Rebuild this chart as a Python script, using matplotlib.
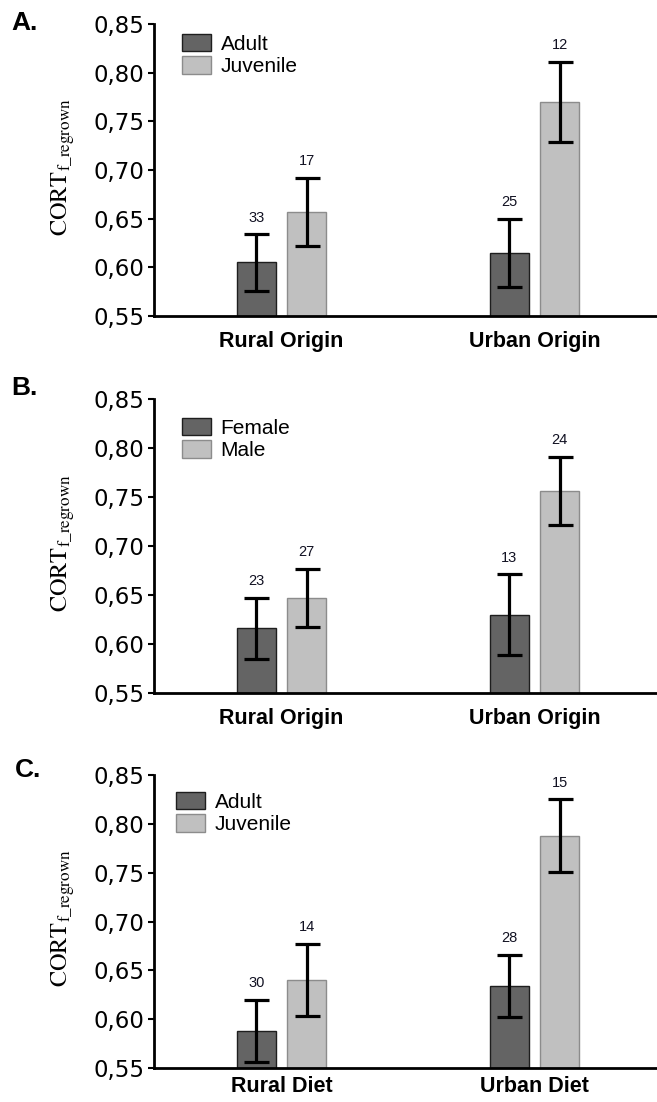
import matplotlib
matplotlib.use("Agg")
import matplotlib.pyplot as plt
import numpy as np

# panel A: origin x age
a_groups = ["Rural Origin", "Urban Origin"]
a_series = ["Adult", "Juvenile"]
a_means = [[0.605, 0.615], [0.657, 0.770]]
a_errs = [[0.029, 0.035], [0.035, 0.041]]
a_counts = [[33, 25], [17, 12]]

# panel B: origin x sex
b_groups = ["Rural Origin", "Urban Origin"]
b_series = ["Female", "Male"]
b_means = [[0.616, 0.630], [0.647, 0.756]]
b_errs = [[0.031, 0.041], [0.030, 0.035]]
b_counts = [[23, 13], [27, 24]]

# panel C: diet x age
c_groups = ["Rural Diet", "Urban Diet"]
c_series = ["Adult", "Juvenile"]
c_means = [[0.588, 0.634], [0.640, 0.788]]
c_errs = [[0.032, 0.032], [0.037, 0.037]]
c_counts = [[30, 28], [14, 15]]

yticks = [0.55, 0.60, 0.65, 0.70, 0.75, 0.80, 0.85]

face = ["#646464", "#c0c0c0"]
edge = ["#1e1e1e", "#8c8c8c"]

plt.rcParams["font.family"] = ["Liberation Sans", "DejaVu Sans"]
plt.rcParams["mathtext.fontset"] = "stix"

fig = plt.figure(figsize=(6.57, 11.02), dpi=100)
fig.patch.set_facecolor("white")

W, H = 657.0, 1102.0
panels = [
    ("A.", a_groups, a_series, a_means, a_errs, a_counts, 24, 316, 182, 34, 11, 30, 11),
    ("B.", b_groups, b_series, b_means, b_errs, b_counts, 399, 693, 182, 418, 11, 395, 11),
    ("C.", c_groups, c_series, c_means, c_errs, c_counts, 775, 1068, 176, 792, 15, 777, 6),
]

for (tag, groups, series, means, errs, counts,
     top, bot, leg_x, leg_y, tag_x, tag_y, xpad) in panels:
    ax = fig.add_axes([154 / W, (H - bot) / H, (W - 154) / W, (bot - top) / H])
    x = np.arange(len(groups))
    width = 0.154
    offs = [-0.1, 0.1]
    handles = []
    for i, name in enumerate(series):
        b = ax.bar(x + offs[i], means[i], width, bottom=0, color=face[i],
                   edgecolor=edge[i], linewidth=1.0, label=name, zorder=2)
        handles.append(b)
        ax.errorbar(x + offs[i], means[i], yerr=errs[i], fmt="none",
                    ecolor="black", elinewidth=2.3, capsize=9, capthick=2.3,
                    zorder=3)
        for xi, m, e, n in zip(x + offs[i], means[i], errs[i], counts[i]):
            ax.annotate(str(n), (xi, m + e), xytext=(0, 7),
                        textcoords="offset points", ha="center", va="bottom",
                        fontsize=10.5, color="#111122")

    ax.set_ylim(0.55, 0.85)
    ax.set_xlim(-0.504, 1.484)
    ax.set_yticks(yticks)
    ax.set_yticklabels([("%.2f" % t).replace(".", ",") for t in yticks],
                       family="DejaVu Sans", fontsize=16.5)
    ax.set_xticks(x)
    ax.set_xticklabels(groups, fontsize=15.5, fontweight="bold")
    ax.tick_params(axis="x", length=0, pad=xpad)
    ax.tick_params(axis="y", length=4, width=1.5, pad=3, direction="out")

    for s in ["top", "right"]:
        ax.spines[s].set_visible(False)
    for s in ["left", "bottom"]:
        ax.spines[s].set_linewidth(2.0)
        ax.spines[s].set_color("black")

    ax.set_ylabel(r"$\mathrm{CORT}_{\mathrm{f\_regrown}}$", fontsize=17.5)
    ax.yaxis.set_label_coords(-0.153, 0.51)

    ax.legend(handles=handles, labels=series, loc="upper left",
              bbox_to_anchor=((leg_x - 154) / 503.0, 1 - (leg_y - top) / (bot - top)),
              frameon=False, fontsize=15, handlelength=1.4, handleheight=0.9,
              handletextpad=0.45, labelspacing=0.12, borderpad=0,
              borderaxespad=0)

    fig.text(tag_x / W, (H - tag_y) / H, tag, fontsize=19, fontweight="bold",
             ha="left", va="baseline")

fig.savefig("out.png", dpi=100, facecolor="white")
